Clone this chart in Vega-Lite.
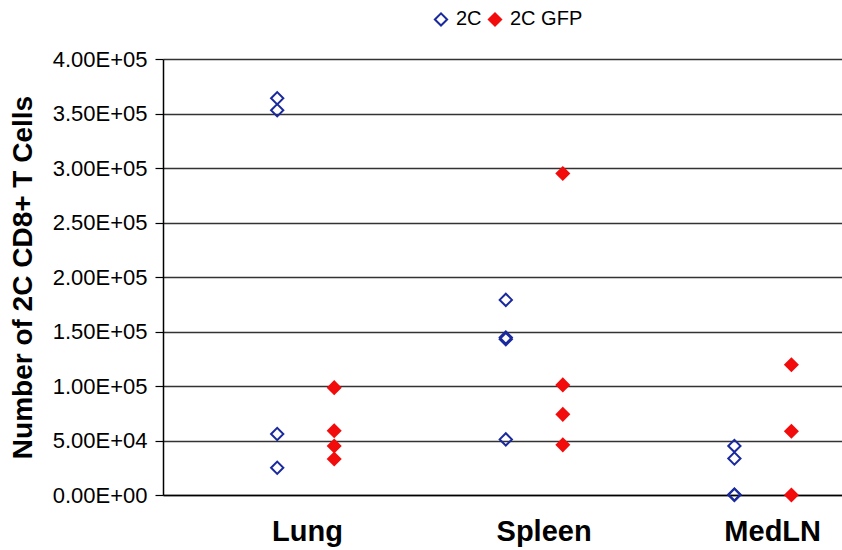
{
  "$schema": "https://vega.github.io/schema/vega-lite/v6.json",
  "width": 678,
  "height": 436,
  "autosize": {"type": "none"},
  "padding": {"left": 163, "top": 59, "right": 1, "bottom": 55},
  "background": "white",
  "config": {
    "font": "Liberation Sans",
    "view": {"stroke": null},
    "axis": {"labelFont": "Liberation Sans", "titleFont": "Liberation Sans"}
  },
  "data": {
    "values": [
      {"tissue": "Lung", "group": "2C", "cells": 364000},
      {"tissue": "Lung", "group": "2C", "cells": 353000},
      {"tissue": "Lung", "group": "2C", "cells": 56000},
      {"tissue": "Lung", "group": "2C", "cells": 25000},
      {"tissue": "Lung", "group": "2C GFP", "cells": 98500},
      {"tissue": "Lung", "group": "2C GFP", "cells": 59000},
      {"tissue": "Lung", "group": "2C GFP", "cells": 45000},
      {"tissue": "Lung", "group": "2C GFP", "cells": 33000},
      {"tissue": "Spleen", "group": "2C", "cells": 179000},
      {"tissue": "Spleen", "group": "2C", "cells": 144500},
      {"tissue": "Spleen", "group": "2C", "cells": 143000},
      {"tissue": "Spleen", "group": "2C", "cells": 51000},
      {"tissue": "Spleen", "group": "2C GFP", "cells": 295000},
      {"tissue": "Spleen", "group": "2C GFP", "cells": 101000},
      {"tissue": "Spleen", "group": "2C GFP", "cells": 74000},
      {"tissue": "Spleen", "group": "2C GFP", "cells": 46000},
      {"tissue": "MedLN", "group": "2C", "cells": 45000},
      {"tissue": "MedLN", "group": "2C", "cells": 33500},
      {"tissue": "MedLN", "group": "2C", "cells": 500},
      {"tissue": "MedLN", "group": "2C", "cells": 0},
      {"tissue": "MedLN", "group": "2C GFP", "cells": 119500},
      {"tissue": "MedLN", "group": "2C GFP", "cells": 58500},
      {"tissue": "MedLN", "group": "2C GFP", "cells": 0}
    ]
  },
  "mark": {"type": "point", "shape": "diamond", "size": 150, "strokeWidth": 2, "opacity": 1, "clip": false},
  "encoding": {
    "x": {
      "field": "tissue",
      "type": "nominal",
      "sort": ["Lung", "Spleen", "MedLN"],
      "scale": {"type": "band", "range": [0, 714], "paddingInner": 0, "paddingOuter": 0.0617, "align": 1},
      "axis": {
        "title": null,
        "labelAngle": 0,
        "labelFontSize": 29,
        "labelFontWeight": "bold",
        "labelColor": "black",
        "labelPadding": 22,
        "labelOffset": {"condition": {"test": "datum.value === 'Lung'", "value": 2}, "value": 10},
        "ticks": false,
        "tickSize": 0,
        "domainColor": "black",
        "domainWidth": 1.5,
        "grid": false
      }
    },
    "xOffset": {
      "field": "group",
      "type": "nominal",
      "scale": {"type": "point", "domain": ["2C", "2C GFP"], "range": [86, 143], "padding": 0}
    },
    "y": {
      "field": "cells",
      "type": "quantitative",
      "scale": {"domain": [0, 400000], "nice": false, "zero": true},
      "axis": {
        "title": "Number of 2C CD8+ T Cells",
        "titleFontSize": 28,
        "titleFontWeight": "bold",
        "titleColor": "black",
        "titlePadding": 15,
        "values": [0, 50000, 100000, 150000, 200000, 250000, 300000, 350000, 400000],
        "labelExpr": "replace(format(datum.value, '.2e'), 'e+', 'E+0')",
        "labelFontSize": 22,
        "labelColor": "black",
        "labelPadding": 8,
        "tickSize": 8,
        "tickColor": "black",
        "tickWidth": 1.2,
        "domain": true,
        "domainColor": "black",
        "domainWidth": 1.5,
        "grid": true,
        "gridColor": "#333333",
        "gridWidth": 1.5
      }
    },
    "color": {
      "field": "group",
      "type": "nominal",
      "scale": {"domain": ["2C", "2C GFP"], "range": ["#1a2a9e", "#f20c0c"]},
      "legend": {
        "title": null,
        "orient": "none",
        "direction": "horizontal",
        "legendX": 268,
        "legendY": -50,
        "padding": 0,
        "labelFontSize": 20,
        "labelColor": "black",
        "labelOffset": 5,
        "columnPadding": 2,
        "symbolSize": 150,
        "symbolStrokeWidth": 2
      }
    },
    "fill": {
      "field": "group",
      "type": "nominal",
      "scale": {"domain": ["2C", "2C GFP"], "range": ["transparent", "#f20c0c"]},
      "legend": null
    }
  }
}
